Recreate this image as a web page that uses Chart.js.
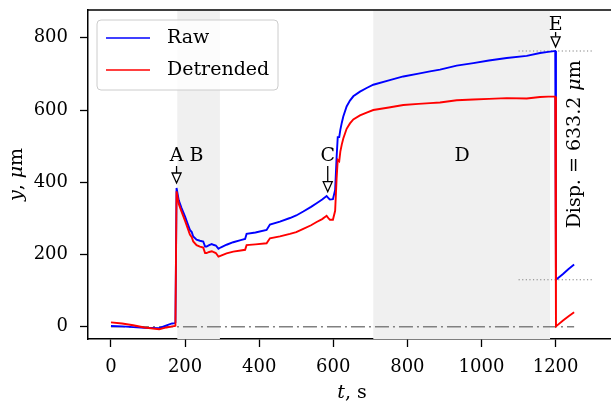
<!DOCTYPE html>
<html>
<head>
<meta charset="utf-8">
<script src="https://cdn.jsdelivr.net/npm/chart.js@4.4.1/dist/chart.umd.min.js"></script>
<style>
  html, body { margin: 0; padding: 0; background: #fff; overflow: hidden; }
  #wrap { width: 620px; height: 407px; }
</style>
</head>
<body>
<div id="wrap"><canvas id="dispChart" width="620" height="407"></canvas></div>
<script>
// time stamps (s) shared by both series
const times = [0, 30, 60, 90, 130, 150, 165, 172, 174, 177, 183, 190, 200, 207, 213, 218, 222, 231, 240, 249,
  254, 258, 265, 272, 276, 283, 290, 297, 312, 330, 350, 362, 366, 390, 420, 429, 456, 483, 500, 519,
  540, 555, 570, 582, 588, 591, 599, 605, 609, 612, 616, 619, 623, 627, 636, 645, 654, 672, 690, 708,
  750, 789, 830, 861, 888, 933, 978, 1020, 1068, 1122, 1158, 1180, 1196, 1199, 1201, 1220, 1235, 1250];

// displacement in micrometres
const rawDisp = [2, 1, -1, -3, -4, 4, 9, 10, 12, 384, 350, 330, 305, 285, 268, 262, 250, 241, 238, 236,
  222, 222, 226, 229, 227, 225, 216, 220, 227, 234, 240, 243, 257, 261, 268, 283, 291, 301, 308, 319,
  332, 342, 352, 362, 355, 352, 353, 379, 470, 525, 525, 545, 565, 582, 610, 626, 638, 651, 661, 670,
  682, 693, 701, 707, 712, 723, 730, 737, 744, 750, 758, 761, 763, 763.4, 130.2, 146, 160, 172];

const detrendedDisp = [12, 9, 4, -2, -7, -2, 1, 2, 3, 375, 340, 320, 293, 273, 255, 248, 236, 226, 222, 219,
  204, 204, 207, 209, 207, 204, 194, 197, 203, 208, 211, 213, 226, 228, 231, 245, 250, 257, 262, 271,
  281, 290, 298, 307, 299, 296, 296, 321, 411, 462, 458, 485, 505, 521, 548, 563, 574, 585, 593, 600,
  607, 614, 617, 619, 621, 627, 629, 631, 633, 632, 636, 637, 637, 637, 1, 17, 29, 40];

// unloading step at E
const eTop = 763.4;
const eBottom = 130.2;
const dispStep = (eTop - eBottom).toFixed(1);

// shaded phases [start, end] in s
const phaseSpans = [[179, 294], [708, 1185]];

const xTicks = [0, 200, 400, 600, 800, 1000, 1200];
const yTicks = [0, 200, 400, 600, 800];

// letter markers: arrow from tail down to tip (data units)
const markers = [
  { label: 'A B', t: 177, tail: 445, tip: 398, textY: 459, anchorFirst: true },
  { label: 'C', t: 585, tail: 445, tip: 374, textY: 459 },
  { label: 'D', t: 948, textY: 459 },
  { label: 'E', t: 1200, tail: 816, tip: 775, textY: 821 }
];

const SERIF = '"DejaVu Serif", serif';
function font(size, italic) {
  return (italic ? 'italic ' : '') + size + 'px ' + SERIF;
}

// draws text made of upright/italic pieces
function drawRich(ctx, parts, x, y, size, align) {
  let total = 0;
  const widths = parts.map(([s, it]) => {
    ctx.font = font(size, it);
    const w = ctx.measureText(s).width;
    total += w;
    return w;
  });
  let cx = align === 'center' ? x - total / 2 : x;
  ctx.textAlign = 'left';
  parts.forEach(([s, it], i) => {
    ctx.font = font(size, it);
    ctx.fillText(s, cx, y);
    cx += widths[i];
  });
}

function drawArrow(ctx, x, yTail, yTip) {
  const headH = 10, headW = 4.5;
  ctx.beginPath();
  ctx.moveTo(x, yTail);
  ctx.lineTo(x, yTip - headH);
  ctx.stroke();
  ctx.beginPath();
  ctx.moveTo(x - headW, yTip - headH);
  ctx.lineTo(x + headW, yTip - headH);
  ctx.lineTo(x, yTip);
  ctx.closePath();
  ctx.fillStyle = '#fff';
  ctx.fill();
  ctx.stroke();
}

const shadePlugin = {
  id: 'shade',
  beforeDatasetsDraw(chart) {
    const { ctx, chartArea, scales } = chart;
    ctx.save();
    ctx.fillStyle = '#f0f0f0';
    phaseSpans.forEach(([a, b]) => {
      const x0 = scales.x.getPixelForValue(a);
      const x1 = scales.x.getPixelForValue(b);
      ctx.fillRect(x0, chartArea.top, x1 - x0, chartArea.bottom - chartArea.top);
    });
    ctx.restore();
  }
};

const markerPlugin = {
  id: 'markers',
  afterDatasetsDraw(chart) {
    const { ctx, scales } = chart;
    ctx.save();
    ctx.strokeStyle = '#000';
    ctx.lineWidth = 1.3;
    ctx.textBaseline = 'alphabetic';
    markers.forEach(m => {
      const x = scales.x.getPixelForValue(m.t);
      const ty = scales.y.getPixelForValue(m.textY);
      ctx.font = font(19, false);
      ctx.fillStyle = '#000';
      if (m.anchorFirst) {
        const w = ctx.measureText(m.label[0]).width;
        ctx.textAlign = 'left';
        ctx.fillText(m.label, x - w / 2, ty);
      } else {
        ctx.textAlign = 'center';
        ctx.fillText(m.label, x, ty);
      }
      if (m.tip !== undefined) {
        drawArrow(ctx, x, scales.y.getPixelForValue(m.tail), scales.y.getPixelForValue(m.tip));
      }
    });

    // displacement label beside the unloading step
    ctx.fillStyle = '#000';
    ctx.translate(scales.x.getPixelForValue(1252), scales.y.getPixelForValue(505));
    ctx.rotate(-Math.PI / 2);
    ctx.textBaseline = 'middle';
    drawRich(ctx, [['Disp. = ' + dispStep + ' ', false], ['\u03bc', true], ['m', false]], 0, 0, 19, 'center');
    ctx.restore();
  }
};

const framePlugin = {
  id: 'frame',
  afterDraw(chart) {
    const { ctx, chartArea } = chart;
    ctx.save();
    ctx.strokeStyle = '#000';
    ctx.lineWidth = 1.5;
    ctx.beginPath();
    ctx.moveTo(chartArea.left, chartArea.top);
    ctx.lineTo(chartArea.right, chartArea.top);
    ctx.lineTo(chartArea.right, chartArea.bottom);
    ctx.stroke();

    // axis titles
    ctx.fillStyle = '#000';
    ctx.textBaseline = 'middle';
    drawRich(ctx, [['t', true], [', s', false]], (chartArea.left + chartArea.right) / 2, 393, 19, 'center');
    ctx.translate(17, (chartArea.top + chartArea.bottom) / 2);
    ctx.rotate(-Math.PI / 2);
    drawRich(ctx, [['y', true], [', ', false], ['\u03bc', true], ['m', false]], 0, 0, 19, 'center');
    ctx.restore();
  }
};

const legendPlugin = {
  id: 'boxLegend',
  afterDraw(chart) {
    const { ctx, chartArea } = chart;
    const bx = chartArea.left + 9, by = chartArea.top + 10, bw = 181, bh = 70;
    ctx.save();
    ctx.beginPath();
    ctx.roundRect(bx, by, bw, bh, 4);
    ctx.fillStyle = 'rgba(255,255,255,0.8)';
    ctx.fill();
    ctx.strokeStyle = '#cccccc';
    ctx.lineWidth = 1;
    ctx.stroke();
    chart.data.datasets.slice(0, 2).forEach((ds, i) => {
      const y = by + 18 + i * 32;
      ctx.strokeStyle = ds.borderColor;
      ctx.lineWidth = 1.5;
      ctx.beginPath();
      ctx.moveTo(bx + 9, y);
      ctx.lineTo(bx + 53, y);
      ctx.stroke();
      ctx.fillStyle = '#000';
      ctx.font = font(19, false);
      ctx.textAlign = 'left';
      ctx.textBaseline = 'middle';
      ctx.fillText(ds.label, bx + 70, y);
    });
    ctx.restore();
  }
};

// scale label overflow would push the plot frame inwards; the frame is fixed instead
const fixPadding = s => {
  s.paddingTop = 0;
  s.paddingBottom = 0;
  s.paddingLeft = 0;
  s.paddingRight = 0;
};

const toPoints = (ts, vs) => ts.map((t, i) => ({ x: t, y: vs[i] }));

new Chart(document.getElementById('dispChart'), {
  type: 'line',
  data: {
    datasets: [
      {
        label: 'Raw',
        data: toPoints(times, rawDisp),
        borderColor: '#0000ff',
        borderWidth: 1.9,
        order: 2
      },
      {
        label: 'Detrended',
        data: toPoints(times, detrendedDisp),
        borderColor: '#ff0000',
        borderWidth: 1.9,
        order: 1
      },
      {
        label: 'zero',
        data: [{ x: 0, y: 0 }, { x: 1250, y: 0 }],
        borderColor: '#808080',
        borderWidth: 1.5,
        borderDash: [14, 4, 2, 4],
        order: 3
      },
      {
        label: 'top',
        data: [{ x: 1100, y: eTop }, { x: 1300, y: eTop }],
        borderColor: '#808080',
        borderWidth: 1.1,
        borderDash: [1.2, 2.4],
        order: 3
      },
      {
        label: 'bottom',
        data: [{ x: 1100, y: eBottom }, { x: 1300, y: eBottom }],
        borderColor: '#808080',
        borderWidth: 1.1,
        borderDash: [1.2, 2.4],
        order: 3
      }
    ]
  },
  options: {
    responsive: false,
    animation: false,
    devicePixelRatio: 1,
    layout: { padding: { top: 10, right: 4, left: 0, bottom: 0 } },
    elements: { point: { radius: 0 }, line: { tension: 0 } },
    plugins: { legend: { display: false }, tooltip: { enabled: false } },
    scales: {
      x: {
        type: 'linear',
        min: -62,
        max: 1363,
        afterBuildTicks: s => { s.ticks = xTicks.map(v => ({ value: v })); },
        afterFit: s => { s.height = 68; fixPadding(s); },
        grid: { drawOnChartArea: false, drawTicks: true, tickLength: 8, tickWidth: 1.3, tickColor: '#000' },
        border: { display: true, color: '#000', width: 1.5 },
        ticks: {
          color: '#000', font: { family: SERIF, size: 18 }, padding: 10, maxRotation: 0, autoSkip: false,
          callback: v => String(v)
        }
      },
      y: {
        type: 'linear',
        min: -34,
        max: 877,
        afterBuildTicks: s => { s.ticks = yTicks.map(v => ({ value: v })); },
        afterFit: s => { s.width = 88; fixPadding(s); },
        grid: { drawOnChartArea: false, drawTicks: true, tickLength: 8, tickWidth: 1.3, tickColor: '#000' },
        border: { display: true, color: '#000', width: 1.5 },
        ticks: { color: '#000', font: { family: SERIF, size: 18 }, padding: 12, callback: v => String(v) }
      }
    }
  },
  plugins: [shadePlugin, markerPlugin, framePlugin, legendPlugin]
});
</script>
</body>
</html>
